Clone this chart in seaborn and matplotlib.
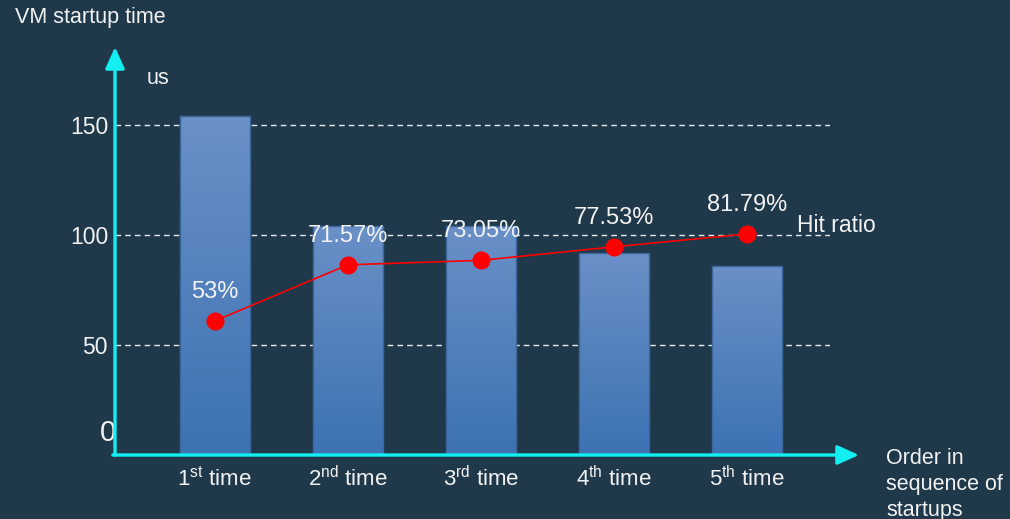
import numpy as np
import pandas as pd
import matplotlib
matplotlib.use("Agg")
import matplotlib.pyplot as plt
from matplotlib.colors import LinearSegmentedColormap
from matplotlib.transforms import ScaledTranslation
import seaborn as sns

# --- data -------------------------------------------------------------
ordinals = ["1", "2", "3", "4", "5"]
suffixes = ["st", "nd", "rd", "th", "th"]
startup_us = [154, 104, 104, 92, 86]            # VM startup time (us)
hit_ratio = [53.00, 71.57, 73.05, 77.53, 81.79]  # cache hit ratio (%)
hit_labels = ["53%", "71.57%", "73.05%", "77.53%", "81.79%"]
y_ticks = [0, 50, 100, 150]

# --- style ------------------------------------------------------------
BG = "#1f394b"
CYAN = "#12eef2"
TXT = "#f2f2f2"
RED = "#ff0000"

sns.set_style("white")
plt.rcParams["font.family"] = ["Liberation Sans", "DejaVu Sans"]
plt.rcParams["mathtext.fontset"] = "custom"
plt.rcParams["mathtext.rm"] = "Liberation Sans"
plt.rcParams["mathtext.it"] = "Liberation Sans:italic"
plt.rcParams["mathtext.bf"] = "Liberation Sans:bold"

W, H = 1010, 519
fig = plt.figure(figsize=(W / 100, H / 100), dpi=100, facecolor=BG)

# axes box in pixels: left 115, right 830, top 100, bottom 455
ax = fig.add_axes([115 / W, 1 - 455 / H, 715 / W, 355 / H])
ax.set_facecolor(BG)

df = pd.DataFrame({
    "order": [f"{o}$^{{\\rm {s}}}$ time" for o, s in zip(ordinals, suffixes)],
    "us": startup_us,
})
sns.barplot(data=df, x="order", y="us", ax=ax, width=0.53,
            color="#5583c0", edgecolor="#3b679c", linewidth=1.0,
            errorbar=None, zorder=2)

# vertical gradient fill clipped to each bar
grad_cmap = LinearSegmentedColormap.from_list("bar", ["#3d72b3", "#6a90c7"])
grad = np.linspace(0, 1, 256).reshape(-1, 1)
for patch in list(ax.patches):
    x0, y0 = patch.get_x(), patch.get_y()
    w, h = patch.get_width(), patch.get_height()
    im = ax.imshow(grad, extent=[x0, x0 + w, y0, y0 + h], origin="lower",
                   aspect="auto", cmap=grad_cmap, zorder=1.9)
    im.set_clip_path(patch)
    patch.set_facecolor("none")

ax.set_xlim(-0.75, 4.625)
ax.set_ylim(0, 161.4)
ax.set_yticks(y_ticks)
ax.set_yticklabels([str(t) for t in y_ticks])
ax.set_xlabel("")
ax.set_ylabel("")
for sp in ax.spines.values():
    sp.set_visible(False)
ax.tick_params(axis="both", length=0, colors=TXT)
ax.tick_params(axis="y", labelsize=16.5, pad=5)
ax.tick_params(axis="x", labelsize=16, pad=8)

# the zero label sits a little above the axis line, in a larger size
zero = ax.get_yticklabels()[0]
zero.set_fontsize(21)
zero.set_transform(zero.get_transform() +
                   ScaledTranslation(0.08, 0.25, fig.dpi_scale_trans))

# dashed gridlines at 50/100/150
for t in y_ticks[1:]:
    ax.axhline(t, color="white", lw=1.0, ls=(0, (4, 3)), alpha=0.9, zorder=1)

# hit-ratio line on a secondary scale
ax2 = ax.twinx()
ax2.set_ylim(8.66, 126.1)
sns.lineplot(x=list(range(len(hit_ratio))), y=hit_ratio, ax=ax2, color=RED,
             lw=1.2, marker="o", markersize=13, markeredgecolor=RED,
             markeredgewidth=0)
ax2.set_xlim(ax.get_xlim())
ax2.set_yticks([])
ax2.set_ylabel("")
for sp in ax2.spines.values():
    sp.set_visible(False)
for i, (v, lab) in enumerate(zip(hit_ratio, hit_labels)):
    ax2.annotate(lab, (i, v), xytext=(0, 21), textcoords="offset points",
                 ha="center", va="center", color=TXT, fontsize=17)

# cyan arrow axes
arrow = dict(arrowstyle="-|>,head_length=1.0,head_width=0.45",
             color=CYAN, lw=2.4, mutation_scale=13, shrinkA=0, shrinkB=0)
ax.annotate("", xy=(0, (455 - 47) / 355), xytext=(0, 0),
            xycoords="axes fraction", textcoords="axes fraction",
            arrowprops=arrow, annotation_clip=False)
ax.annotate("", xy=((859 - 115) / 715, 0), xytext=(-0.003, 0),
            xycoords="axes fraction", textcoords="axes fraction",
            arrowprops=arrow, annotation_clip=False)

# captions
fig.text(15 / W, 1 - 18 / H, "VM startup time", color=TXT, fontsize=15.5,
         ha="left", va="center")
fig.text(147 / W, 1 - 78 / H, "us", color=TXT, fontsize=15.5,
         ha="left", va="center")
fig.text(797 / W, 1 - 225 / H, "Hit ratio", color=TXT, fontsize=16.5,
         ha="left", va="center")
fig.text(886 / W, 1 - 448 / H, "Order in\nsequence of\nstartups", color=TXT,
         fontsize=15.5, ha="left", va="top", linespacing=1.3)

fig.savefig("out.png", dpi=100, facecolor=BG)
